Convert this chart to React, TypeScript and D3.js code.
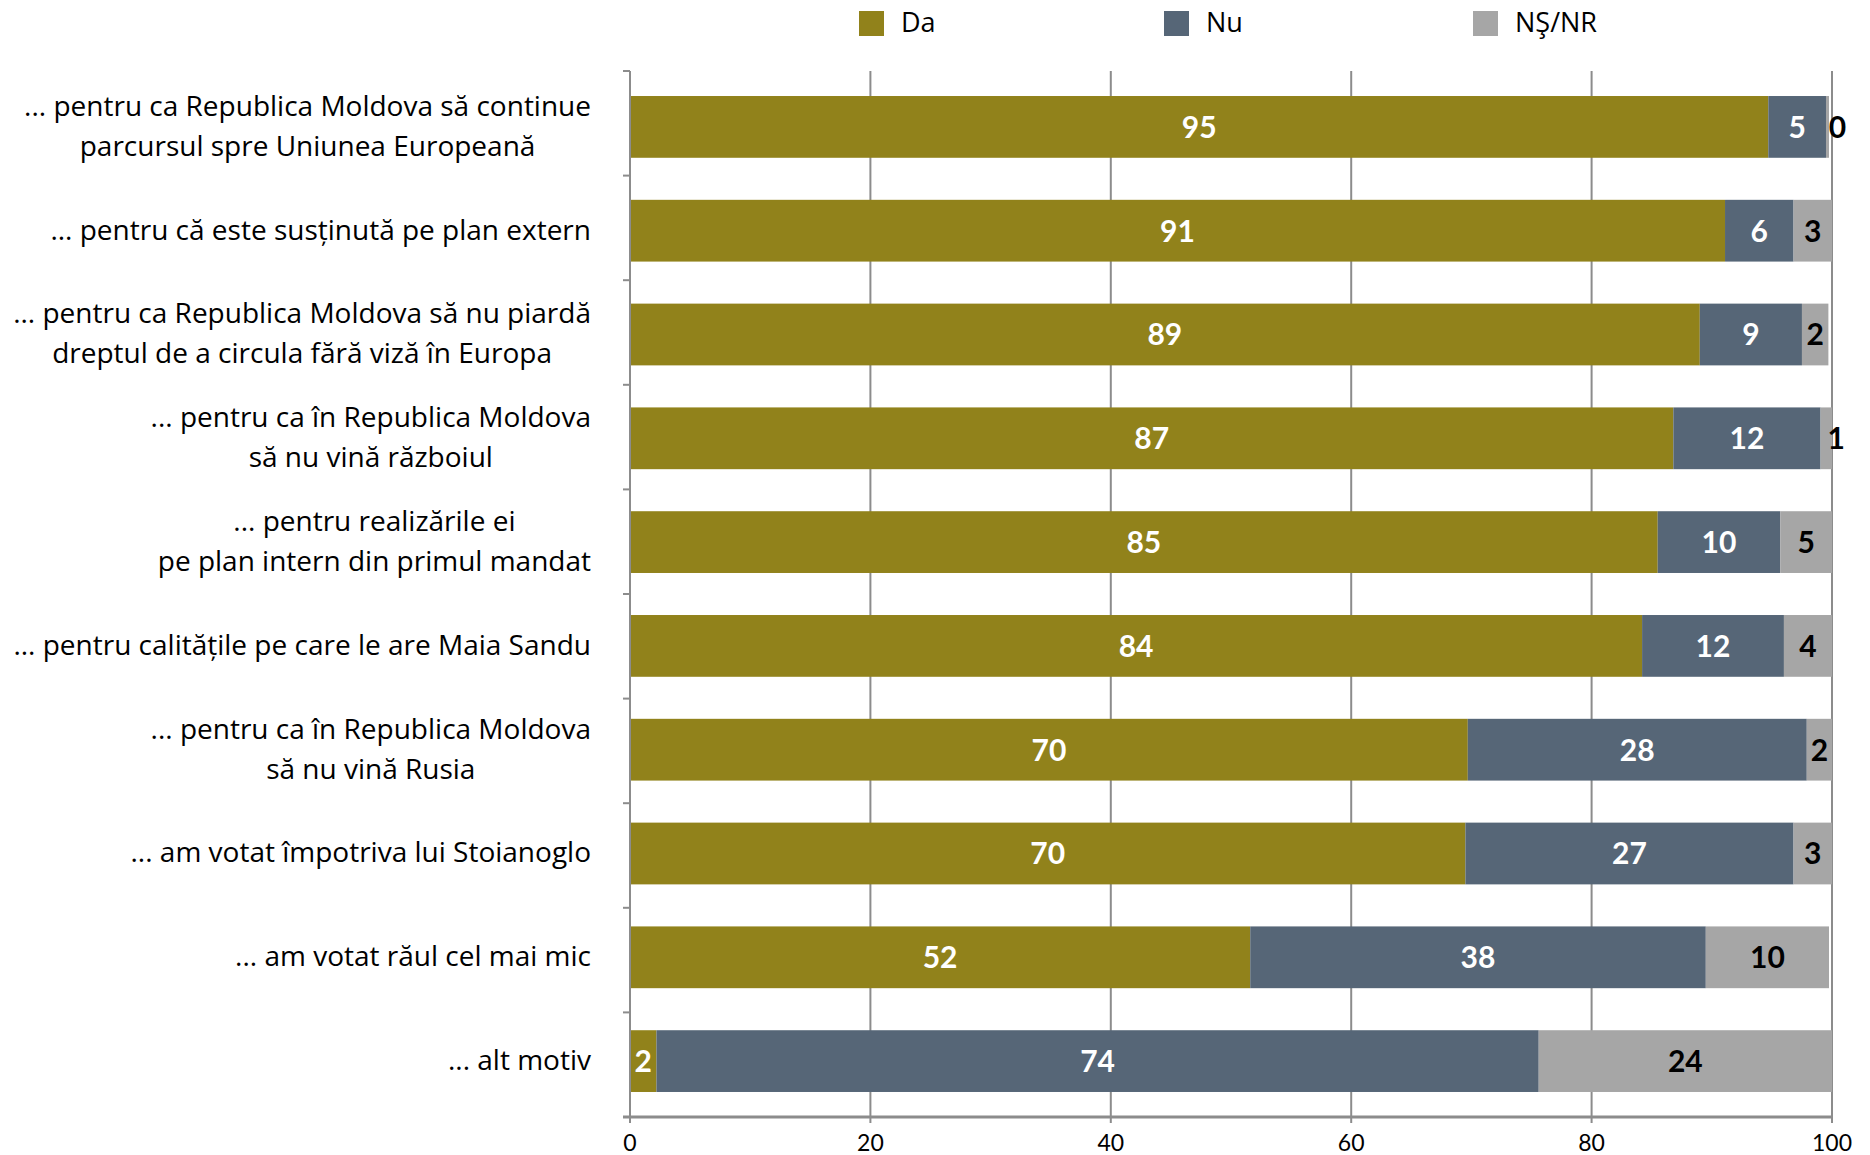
import React, { useEffect, useRef } from 'react';
import * as d3 from 'd3';

const categories: string[][] = [
  ['... pentru ca Republica Moldova să continue', 'parcursul spre Uniunea Europeană'],
  ['... pentru că este susținută pe plan extern'],
  ['... pentru ca Republica Moldova să nu piardă', 'dreptul de a circula fără viză în Europa'],
  ['... pentru ca în Republica Moldova', 'să nu vină războiul'],
  ['... pentru realizările ei', 'pe plan intern din primul mandat'],
  ['... pentru calitățile pe care le are Maia Sandu'],
  ['... pentru ca în Republica Moldova', 'să nu vină Rusia'],
  ['... am votat împotriva lui Stoianoglo'],
  ['... am votat răul cel mai mic'],
  ['... alt motiv'],
];

const seriesNames = ['Da', 'Nu', 'NŞ/NR'];
const seriesColors = ['#91821b', '#566677', '#a6a6a6'];
const labelColors = ['#ffffff', '#ffffff', '#000000'];

const daValues = [94.7, 91.1, 89.0, 86.8, 85.5, 84.2, 69.7, 69.5, 51.6, 2.2];
const nuValues = [4.8, 5.7, 8.5, 12.25, 10.2, 11.8, 28.2, 27.3, 37.9, 73.4];
const nsValues = [0.25, 3.2, 2.2, 0.95, 4.3, 4.0, 2.1, 3.2, 10.25, 24.4];

const daLabels = [95, 91, 89, 87, 85, 84, 70, 70, 52, 2];
const nuLabels = [5, 6, 9, 12, 10, 12, 28, 27, 38, 74];
const nsLabels = [0, 3, 2, 1, 5, 4, 2, 3, 10, 24];

const xTicks = [0, 20, 40, 60, 80, 100];

const W = 1870;
const H = 1155;
const FONT = 'Lato, "Open Sans", sans-serif';
const LABEL_FONT = '"Open Sans", Lato, sans-serif';

export default function App() {
  const ref = useRef<SVGSVGElement | null>(null);

  useEffect(() => {
    document.body.style.margin = '0';
    const svg = d3.select(ref.current);
    svg.selectAll('*').remove();

    const left = 630, right = 1832, top = 71, bottom = 1117;
    const x = d3.scaleLinear().domain([0, 100]).range([left, right]);
    const idx = categories.map((_, i) => String(i));
    const yAxis = d3.scaleBand().domain(idx).range([top, bottom]);
    const yBar = d3.scaleBand().domain(idx).range([75, 1113]).paddingInner(0.405).paddingOuter(0.2025);

    const grid = '#8c8c8c';

    // gridlines
    svg.append('g').selectAll('line').data(xTicks.slice(1)).join('line')
      .attr('x1', d => x(d)).attr('x2', d => x(d))
      .attr('y1', top).attr('y2', bottom + 6)
      .attr('stroke', grid).attr('stroke-width', 2);

    // bars
    const series = [daValues, nuValues, nsValues];
    const labels = [daLabels, nuLabels, nsLabels];
    const rows = categories.map((_, i) => {
      let acc = 0;
      return series.map((s, k) => {
        const x0 = acc;
        acc += s[i];
        return { i, k, x0, x1: acc, label: labels[k][i] };
      });
    });
    const segs = rows.flat();

    svg.append('g').selectAll('rect').data(segs).join('rect')
      .attr('x', d => x(d.x0))
      .attr('y', d => yBar(String(d.i))!)
      .attr('width', d => x(d.x1) - x(d.x0))
      .attr('height', yBar.bandwidth())
      .attr('fill', d => seriesColors[d.k]);

    // left axis
    svg.append('line').attr('x1', left).attr('x2', left).attr('y1', top).attr('y2', bottom)
      .attr('stroke', grid).attr('stroke-width', 2);
    const bounds = idx.map(d => yAxis(d)!).concat([bottom]);
    svg.append('g').selectAll('line').data(bounds).join('line')
      .attr('x1', left - 7).attr('x2', left)
      .attr('y1', d => d).attr('y2', d => d)
      .attr('stroke', grid).attr('stroke-width', 2);

    // bottom axis
    svg.append('line').attr('x1', left - 7).attr('x2', right).attr('y1', bottom).attr('y2', bottom)
      .attr('stroke', grid).attr('stroke-width', 3);
    svg.append('line').attr('x1', left).attr('x2', left).attr('y1', bottom).attr('y2', bottom + 6)
      .attr('stroke', grid).attr('stroke-width', 2);
    svg.append('g').selectAll('text').data(xTicks).join('text')
      .attr('x', d => x(d)).attr('y', 1151)
      .attr('text-anchor', 'middle')
      .attr('font-family', FONT).attr('font-size', 23).attr('fill', '#000')
      .text(d => String(d));

    // value labels
    svg.append('g').selectAll('text').data(segs).join('text')
      .attr('x', d => {
        const w = x(d.x1) - x(d.x0);
        const c = (x(d.x0) + x(d.x1)) / 2;
        return w < 20 ? c + 10 : c;
      })
      .attr('y', d => yBar(String(d.i))! + yBar.bandwidth() / 2)
      .attr('dy', '0.36em')
      .attr('text-anchor', 'middle')
      .attr('font-family', FONT).attr('font-weight', 'bold').attr('font-size', 30)
      .attr('fill', d => labelColors[d.k])
      .text(d => String(d.label));

    // category labels
    const labRight = 591;
    const lineGap = 40;
    categories.forEach((lines, i) => {
      const cy = yBar(String(i))! + yBar.bandwidth() / 2;
      const g = svg.append('g');
      const texts = lines.map((ln, j) => g.append('text')
        .attr('y', cy + (j - (lines.length - 1) / 2) * lineGap)
        .attr('dy', '0.32em')
        .attr('font-family', LABEL_FONT).attr('font-size', 28).attr('fill', '#000')
        .attr('text-anchor', 'middle')
        .text(ln));
      const widths = texts.map(t => (t.node() as SVGTextElement).getComputedTextLength());
      const maxW = Math.max(...widths);
      texts.forEach(t => t.attr('x', labRight - maxW / 2));
    });

    // legend
    const legX = [859, 1164, 1473];
    const lg = svg.append('g');
    seriesNames.forEach((n, k) => {
      lg.append('rect').attr('x', legX[k]).attr('y', 11).attr('width', 25).attr('height', 25)
        .attr('fill', seriesColors[k]);
      lg.append('text').attr('x', legX[k] + 42).attr('y', 32)
        .attr('font-family', LABEL_FONT).attr('font-size', 27).attr('fill', '#000')
        .text(n);
    });
  }, []);

  return <svg ref={ref} width={W} height={H} style={{ display: 'block', background: '#fff' }} />;
}
